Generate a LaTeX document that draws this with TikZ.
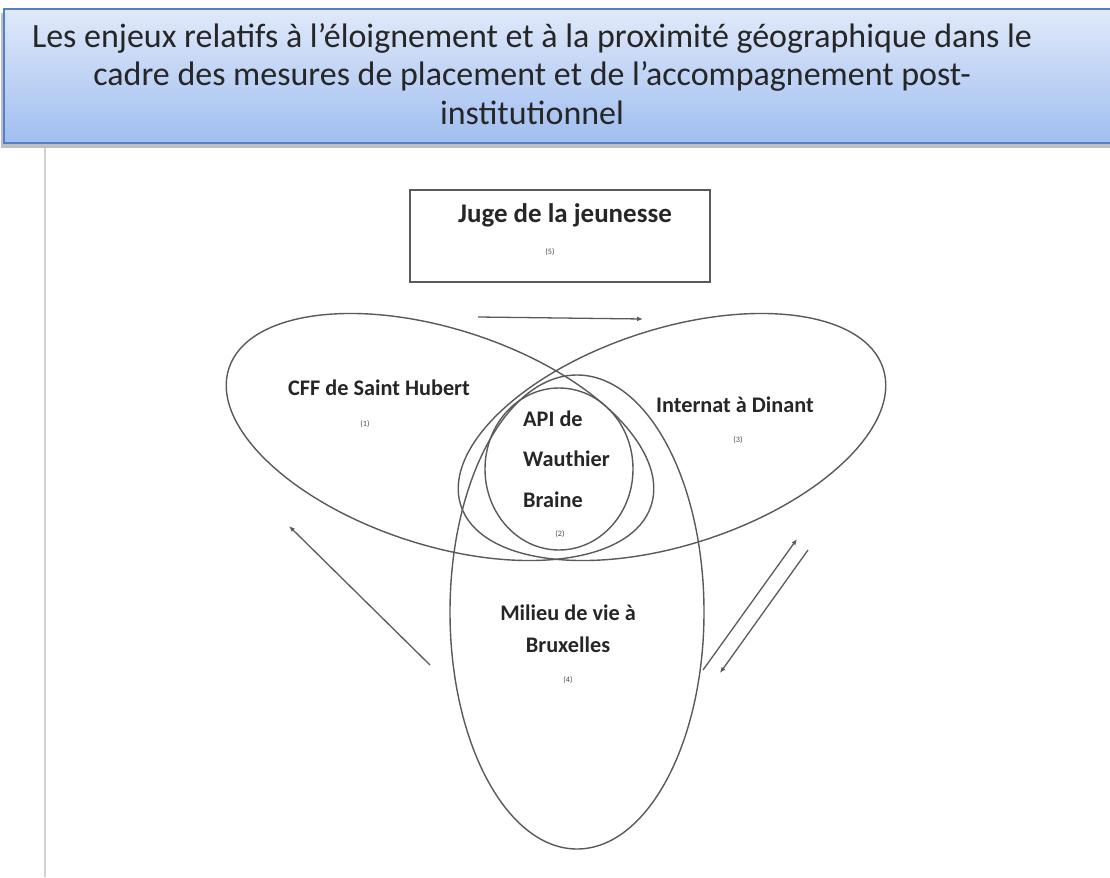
\documentclass[tikz,border=0pt]{standalone}
\usepackage{fontspec}
\setmainfont{Carlito}
\usetikzlibrary{arrows.meta}
\definecolor{hdrtop}{RGB}{224,233,250}
\definecolor{hdrbot}{RGB}{160,190,240}
\definecolor{hdrline}{RGB}{84,128,200}
\definecolor{inkgray}{RGB}{90,90,90}
\tikzset{
  lbl/.style={inner sep=0pt, font=\bfseries\fontsize{19}{23}\selectfont, text=black!85},
  num/.style={inner sep=0pt, font=\fontsize{7}{8}\selectfont, text=black!70},
  ring/.style={draw=inkgray, line width=1.2pt},
  flow/.style={draw=inkgray, line width=1.1pt, -{Latex[length=5pt,width=4pt]}},
}
\begin{document}
\begin{tikzpicture}[x=0.3mm,y=0.3mm]
  \clip (0,0) rectangle (1110,-877);
  \fill[white] (0,0) rectangle (1110,-877);
  \fill[black!25] (1,-13) rectangle (1120,-148);
  \shade[top color=hdrtop, bottom color=hdrbot] (4,-9) rectangle (1120,-143);
  \draw[hdrline, line width=1.2pt] (4,-9) rectangle (1120,-143);
  \draw[black!18, line width=1.5pt] (45,-148) -- (45,-877);
  \node[align=center, font=\fontsize{29}{33}\selectfont, text=black!85] (title) at (532,-74)
    {Les enjeux relatifs à l’éloignement et à la proximité géographique dans le\\
     cadre des mesures de placement et de l’accompagnement post-\\
     institutionnel};
  \draw[inkgray, line width=1.1pt] (410,-190) rectangle (710,-282);
  \node[lbl, font=\bfseries\fontsize{23}{27}\selectfont] (juge) at (565,-215) {Juge de la jeunesse};
  \node[num] (jugen) at (550,-252) {(5)};
  \draw[ring, rotate around={-18:(440,-437)}] (440,-437) ellipse (222 and 108);
  \draw[ring, rotate around={18:(672,-437)}] (672,-437) ellipse (222 and 108);
  \draw[ring] (577,-612) ellipse (127 and 237);
  \draw[ring] (559,-469) ellipse (74 and 81);
  \node[lbl] (cff) at (379,-388) {CFF de Saint Hubert};
  \node[num] (cffn) at (365,-424) {(1)};
  \node[lbl, align=left, anchor=west, font=\bfseries\fontsize{19}{34.6}\selectfont] (api) at (523,-459)
    {API de\\Wauthier\\Braine};
  \node[num] (apin) at (560,-534) {(2)};
  \node[lbl] (internat) at (735,-405) {Internat à Dinant};
  \node[num] (internatn) at (738,-440) {(3)};
  \node[lbl, align=center, font=\bfseries\fontsize{19}{27}\selectfont] (milieu) at (568,-629)
    {Milieu de vie à\\Bruxelles};
  \node[num] (milieun) at (568,-680) {(4)};
  \coordinate (a1) at (478,-317);
  \coordinate (a2) at (643,-319);
  \coordinate (b1) at (430,-665);
  \coordinate (b2) at (289,-526);
  \coordinate (c1) at (703,-670);
  \coordinate (c2) at (797,-539);
  \coordinate (d1) at (808,-550);
  \coordinate (d2) at (720,-673);
  \draw[flow] (a1) -- (a2);
  \draw[flow] (b1) -- (b2);
  \draw[flow] (c1) -- (c2);
  \draw[flow] (d1) -- (d2);
\end{tikzpicture}
\end{document}
